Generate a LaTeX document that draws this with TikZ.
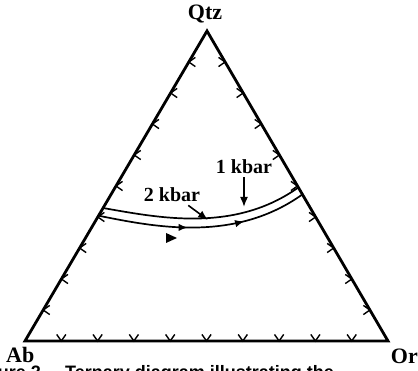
\documentclass[tikz,border=0pt]{standalone}
\usepackage{fontspec}
\setmainfont{Liberation Serif}
\newfontfamily\capfont{Liberation Sans}
\usetikzlibrary{calc,arrows.meta,decorations.markings}
\newcommand{\lab}[0]{\fontsize{22}{26}\selectfont\bfseries}
\newcommand{\kblab}[0]{\fontsize{20}{24}\selectfont\bfseries}
\newcommand{\tickmark}[2]{\draw[tickline] (#1) ++(#2+35:8) -- (#1) -- ++(#2-35:8)}
\newcommand{\flowtip}[0]{\arrow{Latex[length=9pt,width=7.5pt]}}

\begin{document}
\begin{tikzpicture}[x=1pt,y=1pt,
	side/.style={line width=2.8pt,line join=miter},
	tickline/.style={line width=1.4pt},
	melt/.style={line width=1.7pt},
	flowarrows/.style={postaction={decorate},decoration={markings,
		mark=at position 0.42 with {\flowtip},
		mark=at position 0.69 with {\flowtip}}},
	kbarrow/.style={line width=1.6pt,-{Latex[length=10pt,width=8pt]}},
	labnode/.style={inner sep=0pt,font=\lab},
	kbnode/.style={inner sep=3pt,font=\kblab}]
%Frame
	\path[use as bounding box,clip] (0,0) rectangle (418,371);
%Corners
	\coordinate (Ab) at (25,30);
	\coordinate (Or) at (388,30);
	\coordinate (Qtz) at (207,340);
	\draw[side] (Ab) -- (Or) -- (Qtz) -- cycle;
%Ticks
	\foreach \i in {1,...,9} {
		\tickmark{$(Ab)!\i/10!(Or)$}{90};
		\tickmark{$(Ab)!\i/10!(Qtz)$}{0};
		\tickmark{$(Or)!\i/10!(Qtz)$}{180};
	}
%Cotectic curves
	\draw[melt] (103,163) .. controls (160,153) and (235,138) .. (299,184);
	\draw[melt,flowarrows] (100,155) .. controls (155,144) and (235,128) .. (303,177);
	\fill (166,138) -- (177,133) -- (166,128) -- cycle;
%Labels
	\node[labnode,anchor=base] (qtz) at (205,351) {Qtz};
	\node[labnode,anchor=base west] (ab) at (6,8) {Ab};
	\node[labnode,anchor=base east] (or) at (418,7) {Or};
	\node[kbnode,anchor=base] (kb1) at (244,197) {1 kbar};
	\node[kbnode,anchor=base] (kb2) at (172,169) {2 kbar};
%Pointers
	\coordinate (tip1) at (244,164);
	\coordinate (tip2) at (208,151);
	\draw[kbarrow] (kb1.south) -- (tip1);
	\draw[kbarrow] ([xshift=-15pt]kb2.south east) -- (tip2);
%Caption
	\node[anchor=base east,inner sep=0pt,font=\capfont\bfseries\fontsize{18}{20}\selectfont] (fig) at (46,-8) {Figure 2.};
	\node[anchor=base west,inner sep=0pt,font=\capfont\bfseries\fontsize{18}{20}\selectfont] (cap) at (65,-8) {Ternary diagram illustrating the};
\end{tikzpicture}
\end{document}
